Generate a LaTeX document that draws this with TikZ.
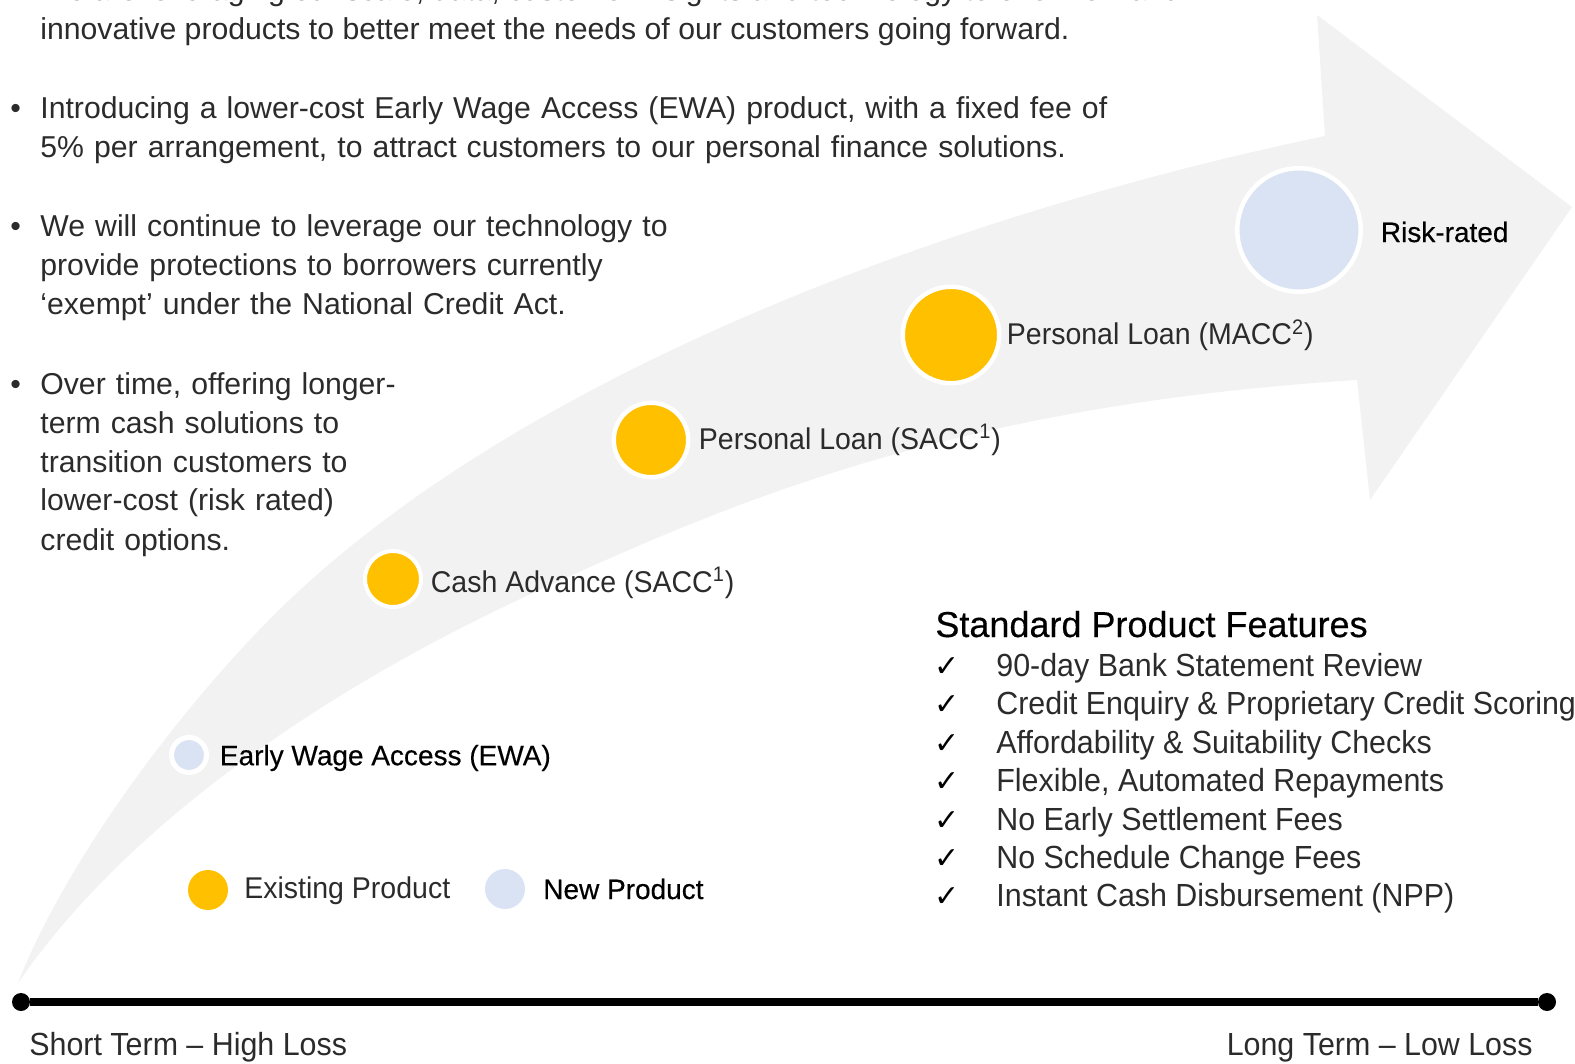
\documentclass[tikz,border=0pt]{standalone}
\usepackage{fontspec}
\setmainfont{Liberation Sans}[FakeStretch=0.95]
\newfontfamily\bodyfont{Liberation Sans}
\newfontfamily\medfont{Liberation Sans}[FakeBold=0.4]
\newfontfamily\symfont{DejaVu Sans}
\usetikzlibrary{positioning}
\definecolor{bandgray}{HTML}{F2F2F2}
\definecolor{gold}{HTML}{FFC000}
\definecolor{paleblue}{HTML}{DAE3F3}
\definecolor{ink}{HTML}{2B2B2B}
\tikzset{
  txt/.style={inner sep=0pt, anchor=base west, text=ink, font=\bodyfont\fontsize{15.1pt}{19.5pt}\selectfont},
  para/.style={txt, text width=700pt, align=left},
  dot/.style={circle, inner sep=0pt, draw=white},
  lbl/.style={inner sep=0pt, anchor=west, text=ink, font=\fontsize{15pt}{18pt}\selectfont},
  newlbl/.style={inner sep=0pt, anchor=west, text=black, font=\medfont\fontsize{14pt}{17pt}\selectfont},
  feat/.style={txt, font=\fontsize{16pt}{19pt}\selectfont},
  chk/.style={inner sep=0pt, anchor=base west, text=black, font=\symfont\fontsize{15pt}{18pt}\selectfont},
  enddot/.style={circle, fill=black, inner sep=0pt, minimum size=9pt}
}

\begin{document}
\begin{tikzpicture}[x=0.5pt,y=-0.5pt]
\useasboundingbox (0,0) rectangle (1575,1064);
\clip (0,0) rectangle (1575,1064);
\fill[bandgray] (18,983) .. controls (70,850) and (200,682) .. (300,590)
  .. controls (550,360) and (975,209) .. (1325,136) -- (1317,15) -- (1572,207)
  -- (1370,500) -- (1357,380) .. controls (957,405) and (733,501) .. (533,593)
  .. controls (333,685) and (130,820) .. (18,983) -- cycle;

\node[txt] (l0) at (40,1) {We are leveraging our scale, data, customer insights and technology to offer new and};
\node[txt] (l1) at (40,40) {innovative products to better meet the needs of our customers going forward.};
\node[txt] (b1) at (10,119) {•};
\node[para] (p1) at (40,119) {Introducing a lower-cost Early Wage Access (EWA) product, with a fixed fee of\\5\% per arrangement, to attract customers to our personal finance solutions.};
\node[txt] (b2) at (10,237) {•};
\node[para] (p2) at (40,237) {We will continue to leverage our technology to\\provide protections to borrowers currently\\‘exempt’ under the National Credit Act.};
\node[txt] (b3) at (10,394) {•};
\node[para] (p3) at (40,394) {Over time, offering longer-\\term cash solutions to\\transition customers to\\lower-cost (risk rated)\\credit options.};

\node[dot, fill=paleblue, line width=2.5pt, minimum size=17.5pt] (ewa) at (189,755) {};
\node[newlbl, right=5.25pt of ewa, yshift=-1.5pt] (ewat) {Early Wage Access (EWA)};
\node[dot, fill=gold, line width=2pt, minimum size=28pt] (cash) at (393,579) {};
\node[lbl, right=3.75pt of cash, yshift=-2pt] (casht) {Cash Advance (SACC\textsuperscript{1})};
\node[dot, fill=gold, line width=2.25pt, minimum size=37.25pt] (sacc) at (651,440) {};
\node[lbl, right=4pt of sacc] (sacct) {Personal Loan (SACC\textsuperscript{1})};
\node[dot, fill=gold, line width=2.25pt, minimum size=48.25pt] (macc) at (951,335) {};
\node[lbl, right=2.5pt of macc] (macct) {Personal Loan (MACC\textsuperscript{2})};
\node[dot, fill=paleblue, line width=2.25pt, minimum size=61.75pt] (risk) at (1299,230) {};
\node[newlbl, right=8.75pt of risk, yshift=-1pt] (riskt) {Risk-rated};

\node[dot, draw=none, fill=gold, minimum size=20pt] (exist) at (208,890) {};
\node[lbl, right=7.75pt of exist, yshift=-0.5pt] (existt) {Existing Product};
\node[dot, draw=none, fill=paleblue, minimum size=20pt] (new) at (505,889) {};
\node[newlbl, right=8.75pt of new] (newt) {New Product};

\node[txt, text=black, font=\medfont\fontsize{18pt}{21pt}\selectfont] (sft) at (935,637) {Standard Product Features};
\foreach \ft [count=\i] in {90-day Bank Statement Review, Credit Enquiry \& Proprietary Credit Scoring,
  Affordability \& Suitability Checks, {Flexible, Automated Repayments}, No Early Settlement Fees,
  No Schedule Change Fees, Instant Cash Disbursement (NPP)}{
  \node[chk] (ck\i) at (934,{638.1+38.4*\i}) {✓};
  \node[feat] (ft\i) at (996,{638.1+38.4*\i}) {\ft};
}

\node[enddot] (st) at (21,1002) {};
\node[enddot] (lt) at (1547,1002) {};
\draw[line width=3.75pt] (st) -- (lt);
\node[feat] (stt) at (29,1055) {Short Term – High Loss};
\node[feat, anchor=base east] (ltt) at (1533,1055) {Long Term – Low Loss};
\end{tikzpicture}
\end{document}
